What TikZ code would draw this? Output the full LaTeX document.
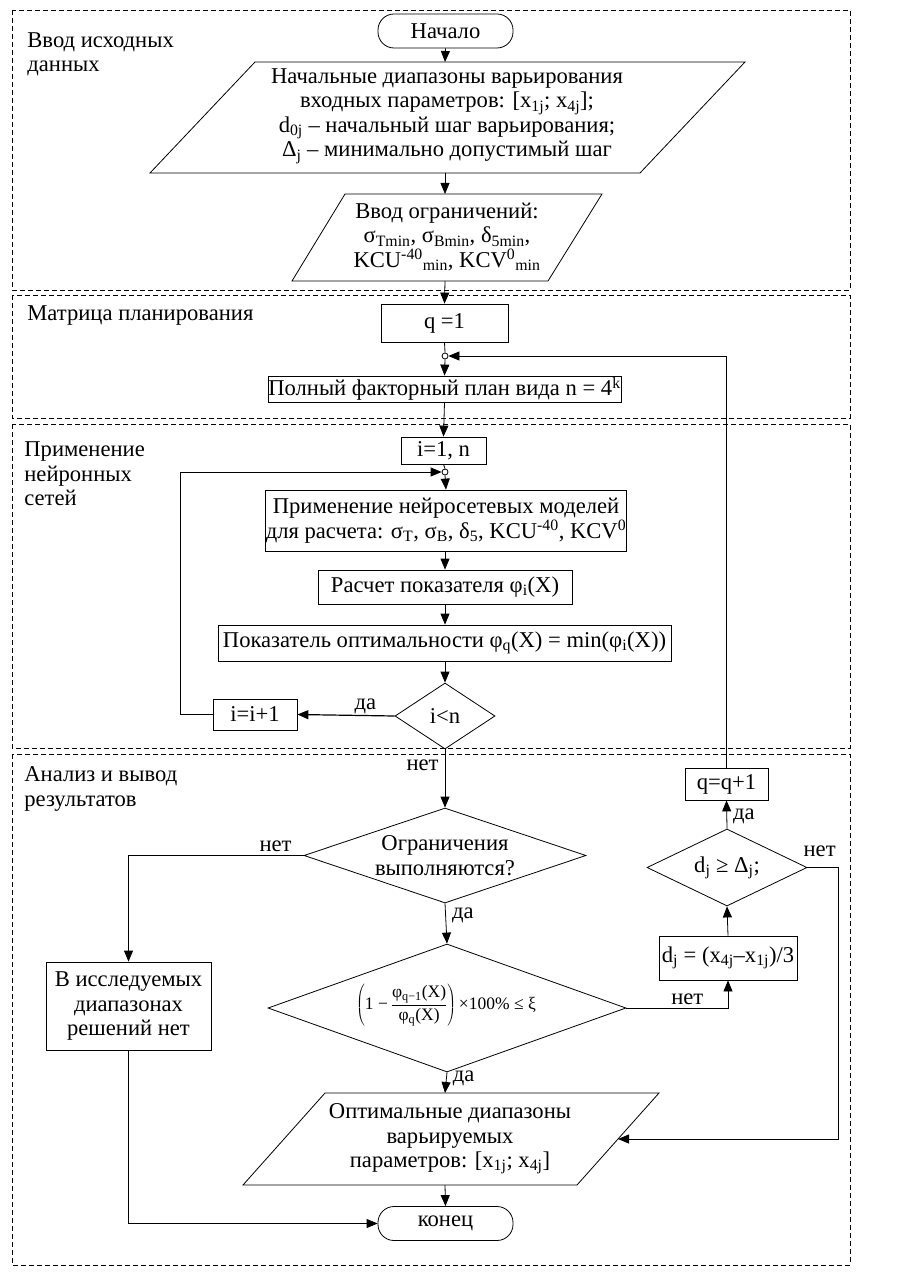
\documentclass[tikz,border=0pt]{standalone}
\usepackage{fontspec}
\setmainfont{Liberation Serif}
\usetikzlibrary{arrows.meta,shapes.geometric}
\tikzset{
  fnt/.style={font=\fontsize{22.6}{24.5}\selectfont},
  box/.style={draw, rectangle, inner sep=0pt, align=center, fnt},
  term/.style={draw, rectangle, rounded corners=16pt, inner sep=0pt, minimum width=135pt, minimum height=34pt, fnt},
  txt/.style={inner sep=0pt, align=center, fnt},
  lbl/.style={inner sep=0pt, align=left, anchor=west, fnt},
  dia/.style={draw, diamond, inner sep=0pt},
  dot/.style={draw, circle, inner sep=0pt, minimum size=6pt, fill=white},
  arr/.style={-{Triangle[length=11pt,width=9pt]}},
  frame/.style={dash pattern=on 5pt off 3pt, line width=0.6pt},
  lines/.style={line width=0.8pt}
}
\begin{document}
\begin{tikzpicture}[x=1pt,y=-1pt,lines]
\useasboundingbox (0,0) rectangle (915,1281);
\fill[white] (0,0) rectangle (915,1281);

% frames
\draw[frame] (12,10) rectangle (850,290);
\draw[frame] (12,295) rectangle (850,418);
\draw[frame] (12,424) rectangle (850,748);
\draw[frame] (12,754) rectangle (850,1265);

% section labels
\node[lbl] (s1) at (27,54.5) {Ввод исходных\\данных};
\node[lbl] (s2) at (27,316) {Матрица планирования};
\node[lbl] (s3) at (24,474) {Применение\\нейронных\\сетей};
\node[lbl] (s4) at (24,789) {Анализ и вывод\\результатов};

% input block
\node[term] (start) at (445.5,31) {Начало};
\draw (255,62) -- (745,62) -- (640,173) -- (150,173) -- cycle;
\coordinate (in1t) at (445,62);
\coordinate (in1b) at (445,173);
\node[txt] (in1) at (447,116) {Начальные диапазоны варьирования\\входных параметров: [x\textsubscript{1j}; x\textsubscript{4j}];\\d\textsubscript{0j} – начальный шаг варьирования;\\Δ\textsubscript{j} – минимально допустимый шаг};

\draw (345,194) -- (602,194) -- (548,281) -- (292,281) -- cycle;
\coordinate (in2t) at (445,194);
\coordinate (in2b) at (445,281);
\node[txt] (in2) at (447,237) {Ввод ограничений:\\σ\textsubscript{Тmin}, σ\textsubscript{Вmin}, δ\textsubscript{5min},\\KCU\textsuperscript{-40}\textsubscript{min}, KCV\textsuperscript{0}\textsubscript{min}};

% planning
\node[box, minimum width=127pt, minimum height=38pt] (q1) at (444.5,323) {q =1};
\node[dot] (c1) at (445,356) {};
\node[box, minimum width=353pt, minimum height=26pt] (plan) at (444.5,389) {Полный факторный план вида n = 4\textsuperscript{k}};

% neural nets
\node[box, minimum width=85pt, minimum height=27pt] (ini) at (443.5,450.5) {i=1, n};
\node[dot] (c2) at (445,472) {};
\node[box, minimum width=356pt, minimum height=61pt] (nn) at (446,520.5) {Применение нейросетевых моделей\\для расчета: σ\textsubscript{Т}, σ\textsubscript{В}, δ\textsubscript{5}, KCU\textsuperscript{-40}, KCV\textsuperscript{0}};
\node[box, minimum width=254pt, minimum height=34pt] (calc) at (445,587) {Расчет показателя φ\textsubscript{i}(X)};
\node[box, minimum width=453pt, minimum height=36pt] (opt) at (444.5,643) {Показатель оптимальности φ\textsubscript{q}(X) = min(φ\textsubscript{i}(X))};
\node[dia, minimum width=100pt, minimum height=66pt] (dec1) at (445,716) {};
\node[txt] (dec1t) at (445,716) {i<n};
\node[box, minimum width=84pt, minimum height=31pt] (inc) at (255,714.5) {i=i+1};

% analysis
\node[dia, minimum width=282pt, minimum height=95pt] (dec2) at (445,855.5) {};
\node[txt] (dec2t) at (445,855.5) {Ограничения\\выполняются?};
\node[box, minimum width=165pt, minimum height=88pt] (nosol) at (128.5,1006) {В исследуемых\\диапазонах\\решений нет};
\node[dia, minimum width=358pt, minimum height=128pt] (dec3) at (447,1008) {};
\node[txt, font=\fontsize{17.5}{20}\selectfont] (dec3t) at (446,1005)
  {$\displaystyle\left(\mbox{1 −\,}\frac{\mbox{φ\textsubscript{q−1}(X)}}{\mbox{φ\textsubscript{q}(X)}}\right)\mbox{×100\% ≤ ξ}$};
\node[box, minimum width=138pt, minimum height=44pt] (dj) at (728,958) {d\textsubscript{j} = (x\textsubscript{4j}–x\textsubscript{1j})/3};
\node[dia, minimum width=160pt, minimum height=77pt] (dec4) at (727,867.5) {};
\node[txt] (dec4t) at (727,867.5) {d\textsubscript{j} ≥ Δ\textsubscript{j};};
\node[box, minimum width=83pt, minimum height=32pt] (qinc) at (726.5,784) {q=q+1};

\draw (325,1093) -- (659,1093) -- (577,1185) -- (243,1185) -- cycle;
\coordinate (outt) at (445,1093);
\coordinate (outb) at (445,1185);
\coordinate (outr) at (618,1139);
\node[txt] (out) at (450,1139) {Оптимальные диапазоны\\варьируемых\\параметров: [x\textsubscript{1j}; x\textsubscript{4j}]};
\node[term] (end) at (445.5,1223.5) {конец};

% connectors
\draw[arr] (start.south) -- (in1t);
\draw[arr] (in1b) -- (in2t);
\draw[arr] (in2b) -- (q1.north);
\draw (q1.south) -- (c1.north);
\draw[arr] (c1.south) -- (plan.north);
\draw[arr] (plan.south) -- (ini.north);
\draw (ini.south) -- (c2.north);
\draw[arr] (c2.south) -- (nn.north);
\draw[arr] (calc.north |- nn.south) -- (calc.north);
\draw[arr] (calc.south) -- (opt.north -| calc.south);
\draw[arr] (opt.south -| dec1.north) -- (dec1.north);
\draw[arr, line width=1.2pt] (dec1.west) -- node[txt, above, pos=0.3, yshift=1pt] (l1) {да} (inc.east);
\coordinate (lp) at (180,472);
\draw[arr] (inc.west) -| (lp) -- (c2.west);
\draw[arr] (dec1.south) -- node[txt, pos=0.28, left, xshift=-6pt] (l2) {нет} (dec2.north);
\draw[arr] (dec2.west) -| node[txt, pos=0.08, above, yshift=3pt] (l3) {нет} (nosol.north);
\draw[arr] (dec2.south) -- node[txt, pos=0.3, right, xshift=6pt] (l4) {да} (dec3.north);
\draw[arr] (dec3.east) -| node[txt, pos=0.3, above, yshift=3pt] (l5) {нет} (dj.south);
\draw[arr] (dj.north) -- (dec4.south);
\draw[arr] (dec4.north) -- node[txt, pos=0.45, right, xshift=6pt] (l6) {да} (qinc.south);
\draw[arr] (qinc.north) |- (c1.east);
\coordinate (rr) at (838,867.5);
\draw[arr] (dec4.east) -- node[txt, pos=0.4, above, yshift=10pt] (l7) {нет} (rr) |- (outr);
\draw[arr] (dec3.south) -- node[txt, pos=0.3, right, xshift=6pt] (l8) {да} (outt);
\draw[arr] (outb) -- (end.north);
\draw[arr] (nosol.south) |- (end.west);
\end{tikzpicture}
\end{document}
